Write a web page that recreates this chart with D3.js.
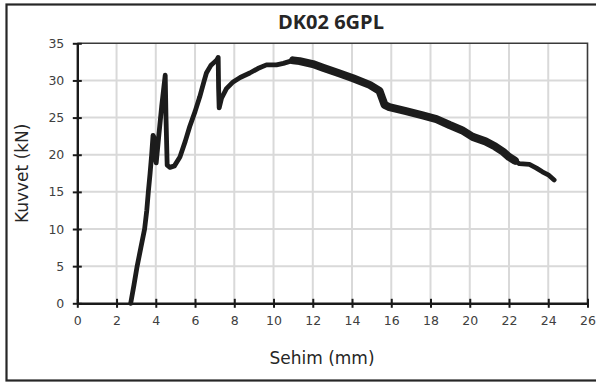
<!DOCTYPE html>
<html>
<head>
<meta charset="utf-8">
<script src="https://cdn.jsdelivr.net/npm/d3@7"></script>
<style>
  html, body { margin: 0; padding: 0; background: #fff; }
  svg { display: block; }
</style>
</head>
<body>
<svg id="chart" width="596" height="383"></svg>
<script>
// Load-deflection curve for specimen DK02 6GPL
const deflection = [2.72, 2.89, 3.05, 3.24, 3.43, 3.54, 3.62, 3.71, 3.79, 3.86, 3.9, 3.95, 4.02, 4.15, 4.3, 4.48, 4.52, 4.58, 4.72, 4.95, 5.23, 5.5, 5.73, 6.0, 6.24, 6.45, 6.58, 6.8, 7.0, 7.12, 7.18, 7.2, 7.23, 7.35, 7.6, 7.94, 8.3, 8.79, 9.2, 9.64, 10.15, 10.5, 11.0, 11.33, 12.0, 12.52, 13.3, 14.05, 14.9, 15.4, 15.55, 15.66, 15.9, 16.7, 17.6, 18.3, 18.97, 19.6, 20.15, 20.8, 21.3, 21.7, 22.0, 22.3, 22.53, 23.04, 23.4, 23.7, 24.0, 24.3];
const force      = [0.0, 2.5, 5.0, 7.5, 10.0, 12.5, 15.0, 17.5, 20.0, 22.6, 22.4, 20.0, 18.9, 22.5, 26.5, 30.7, 25.0, 18.6, 18.3, 18.5, 19.7, 21.8, 23.8, 25.8, 27.8, 29.8, 31.0, 32.0, 32.5, 32.8, 33.1, 29.0, 26.3, 27.6, 28.9, 29.8, 30.4, 31.0, 31.6, 32.1, 32.1, 32.3, 32.7, 32.6, 32.2, 31.7, 31.0, 30.3, 29.4, 28.6, 27.5, 26.7, 26.4, 25.9, 25.3, 24.8, 24.0, 23.3, 22.4, 21.8, 21.1, 20.4, 19.7, 19.2, 18.8, 18.7, 18.2, 17.7, 17.3, 16.6];

// Deflection range where the recorded signal is noisy (drawn as a wider band)
const noisyRange = [10.8, 22.3];

const xTicks = [0, 2, 4, 6, 8, 10, 12, 14, 16, 18, 20, 22, 24, 26];
const yTicks = [0, 5, 10, 15, 20, 25, 30, 35];

const titleText = "DK02 6GPL";
const xTitle = "Sehim (mm)";
const yTitle = "Kuvvet (kN)";

const svg = d3.select("#chart");
const W = 596, H = 383;
const plot = { left: 77.3, right: 587.5, top: 43.3, bottom: 303.3 };

// Outer frame
svg.append("rect")
  .attr("x", 6.5).attr("y", 4.5)
  .attr("width", W + 10).attr("height", 376)
  .attr("fill", "#fff").attr("stroke", "#262626").attr("stroke-width", 2.2);

const x = d3.scaleLinear().domain([0, 26]).range([plot.left, plot.right]);
const y = d3.scaleLinear().domain([0, 35]).range([plot.bottom, plot.top]);

// Gridlines
const grid = svg.append("g");
grid.selectAll("line.v").data(xTicks.slice(1, -1)).join("line")
  .attr("x1", d => x(d)).attr("x2", d => x(d))
  .attr("y1", plot.top).attr("y2", plot.bottom)
  .attr("stroke", "#d9d9d9").attr("stroke-width", 2);
grid.selectAll("line.h").data(yTicks.slice(1, -1)).join("line")
  .attr("x1", plot.left).attr("x2", plot.right)
  .attr("y1", d => y(d)).attr("y2", d => y(d))
  .attr("stroke", "#d9d9d9").attr("stroke-width", 2);

// Plot area border (top/right)
svg.append("path")
  .attr("d", `M${plot.left},${plot.top}H${plot.right}V${plot.bottom}`)
  .attr("fill", "none").attr("stroke", "#3a3a3a").attr("stroke-width", 1.6);

// Axes with ticks crossing the axis line
const xAxis = svg.append("g").attr("transform", `translate(0,${plot.bottom})`)
  .call(d3.axisBottom(x).tickValues(xTicks).tickSize(0).tickPadding(13));
xAxis.select(".domain").attr("stroke", "#1a1a1a").attr("stroke-width", 2.4);
xAxis.selectAll(".tick").append("line")
  .attr("y1", -4.5).attr("y2", 4.5).attr("stroke", "#1a1a1a").attr("stroke-width", 2);
xAxis.selectAll("text")
  .attr("font-family", "DejaVu Sans").attr("font-size", 12.5).attr("fill", "#404040");

const yAxis = svg.append("g").attr("transform", `translate(${plot.left},0)`)
  .call(d3.axisLeft(y).tickValues(yTicks).tickSize(0).tickPadding(13));
yAxis.select(".domain").attr("stroke", "#1a1a1a").attr("stroke-width", 2.4);
yAxis.selectAll(".tick").append("line")
  .attr("x1", -4.5).attr("x2", 4.5).attr("stroke", "#1a1a1a").attr("stroke-width", 2);
yAxis.selectAll("text")
  .attr("font-family", "DejaVu Sans").attr("font-size", 12.5).attr("fill", "#404040");

// Curve
const pts = deflection.map((d, i) => [d, force[i]]);
const line = d3.line().x(d => x(d[0])).y(d => y(d[1])).curve(d3.curveLinear);

svg.append("path").datum(pts)
  .attr("d", line)
  .attr("fill", "none").attr("stroke", "#1c1c1c")
  .attr("stroke-width", 4.8).attr("stroke-linejoin", "round").attr("stroke-linecap", "round");

svg.append("path").datum(pts.filter(p => p[0] >= noisyRange[0] && p[0] <= noisyRange[1]))
  .attr("d", line)
  .attr("fill", "none").attr("stroke", "#1c1c1c")
  .attr("stroke-width", 8).attr("stroke-linejoin", "round").attr("stroke-linecap", "round");

// Titles
svg.append("text").attr("x", 331).attr("y", 29).attr("text-anchor", "middle")
  .attr("font-family", "Open Sans").attr("font-weight", "bold").attr("font-size", 20)
  .attr("fill", "#262626").text(titleText);

svg.append("text").attr("x", 322).attr("y", 364).attr("text-anchor", "middle")
  .attr("font-family", "DejaVu Sans").attr("font-size", 17)
  .attr("fill", "#262626").text(xTitle);

svg.append("text").attr("transform", `translate(28,${(plot.top + plot.bottom) / 2}) rotate(-90)`)
  .attr("text-anchor", "middle")
  .attr("font-family", "DejaVu Sans").attr("font-size", 17)
  .attr("fill", "#262626").text(yTitle);
</script>
</body>
</html>
